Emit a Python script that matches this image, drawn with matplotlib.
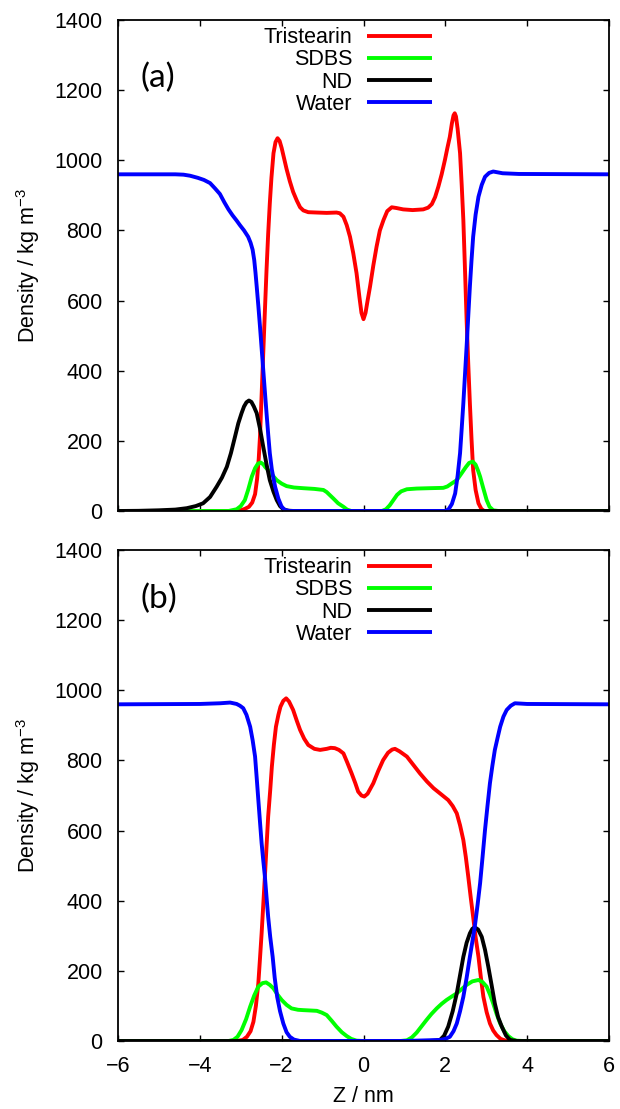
import matplotlib
matplotlib.use("Agg")
import matplotlib.pyplot as plt

plt.rcParams['font.family'] = ['Liberation Sans', 'DejaVu Sans']
plt.rcParams['mathtext.default'] = 'regular'

# ---------------- data, panel (a) ----------------
a_tri_z = [-6, -3.2, -3.0, -2.90, -2.80, -2.72, -2.65, -2.60, -2.56, -2.53, -2.49, -2.45, -2.41,
           -2.37, -2.33, -2.29, -2.25, -2.20, -2.15, -2.10, -2.05, -2.00, -1.96, -1.88, -1.80,
           -1.72, -1.63, -1.55, -1.47, -1.35, -1.14, -0.90, -0.66, -0.58, -0.49, -0.41, -0.33,
           -0.25, -0.17, -0.10, -0.05, 0.0, 0.05, 0.10, 0.16, 0.24, 0.32, 0.40, 0.49, 0.58,
           0.69, 0.80, 0.97, 1.20, 1.46, 1.58, 1.67, 1.75, 1.83, 1.91, 1.99, 2.05, 2.11, 2.16,
           2.20, 2.23, 2.26, 2.30, 2.36, 2.40, 2.44, 2.48, 2.52, 2.56, 2.60, 2.64, 2.68, 2.74,
           2.81, 2.88, 2.95, 6]
a_tri_rho = [0, 0, 2, 6, 12, 24, 48, 92, 150, 212, 330, 450, 570,
             687, 790, 877, 950, 1020, 1052, 1063, 1055, 1035, 1015, 975, 940,
             910, 885, 866, 857, 852, 851, 850, 851, 849, 839, 815, 782,
             735, 678, 610, 565, 547, 565, 600, 640, 700, 754, 800, 830, 855,
             866, 864, 860, 858, 860, 865, 875, 895, 925, 960, 1001, 1035, 1067, 1105,
             1128, 1134, 1125, 1090, 1020, 930, 830, 690, 545, 420, 307, 205, 117, 60,
             22, 6, 0, 0]

a_sdbs_z = [-6, -3.3, -3.10, -3.0, -2.90, -2.82, -2.73, -2.65, -2.58, -2.51, -2.45, -2.40,
            -2.33, -2.25, -2.12, -2.0, -1.88, -1.7, -1.47, -1.2, -0.98, -0.90, -0.82, -0.74,
            -0.62, -0.49, -0.40, -0.30, 0.45, 0.55, 0.64, 0.73, 0.82, 0.92, 1.06, 1.3, 1.6,
            1.95, 2.05, 2.15, 2.28, 2.40, 2.50, 2.58, 2.67, 2.74, 2.80, 2.85, 2.92, 3.01, 3.08,
            3.17, 3.3, 6]
a_sdbs_rho = [0, 0, 5, 14, 31, 60, 98, 122, 135, 138, 133, 125,
              117, 105, 88, 78, 71, 67, 65, 63, 60, 54, 45, 36,
              22, 12, 4, 0, 0, 5, 16, 31, 46, 56, 62, 64, 65,
              66, 70, 78, 88, 108, 125, 137, 141, 132, 115, 98, 68, 31, 12,
              2, 0, 0]

a_nd_z = [-6, -5.5, -5.0, -4.6, -4.32, -4.1, -3.92, -3.75, -3.59, -3.46, -3.34, -3.24, -3.14,
          -3.06, -2.98, -2.92, -2.86, -2.80, -2.74, -2.68, -2.61, -2.53, -2.45, -2.37, -2.29,
          -2.20, -2.12, -2.04, -1.96, -1.85, -1.7, 6]
a_nd_rho = [0, 0.5, 2, 4, 8, 14, 22, 40, 69, 95, 126, 165, 212,
            250, 279, 298, 310, 315, 311, 298, 279, 235, 183, 133, 88,
            55, 31, 14, 5, 1, 0, 0]

a_wat_z = [-6, -4.6, -4.4, -4.24, -4.05, -3.90, -3.75, -3.63, -3.51, -3.40, -3.30, -3.20, -3.10,
           -3.02, -2.92, -2.82, -2.76, -2.71, -2.67, -2.64, -2.61, -2.57, -2.53, -2.49, -2.45,
           -2.41, -2.37, -2.33, -2.29, -2.24, -2.16, -2.08, -2.0, -1.92, -1.8, 2.0, 2.08, 2.16,
           2.24, 2.30, 2.36, 2.40, 2.44, 2.48, 2.52, 2.56, 2.60, 2.64, 2.68, 2.74, 2.81, 2.89,
           2.97, 3.07, 3.17, 3.4, 3.8, 6]
a_wat_rho = [960, 960, 959, 956, 950, 944, 935, 920, 904, 880, 860, 843, 828,
             815, 800, 782, 765, 745, 715, 680, 640, 585, 526, 464, 402,
             340, 279, 220, 165, 118, 69, 35, 12, 3, 0, 0, 5, 20,
             50, 100, 165, 235, 307, 388, 469, 555, 640, 715, 782, 845, 896, 930,
             953, 964, 968, 963, 961, 960]

# ---------------- data, panel (b) ----------------
b_tri_z = [-6, -3.1, -2.95, -2.85, -2.76, -2.69, -2.63, -2.57, -2.53, -2.49, -2.45, -2.41, -2.37,
           -2.33, -2.28, -2.24, -2.19, -2.14, -2.08, -2.03, -1.96, -1.89, -1.82, -1.72, -1.63,
           -1.55, -1.45, -1.35, -1.2, -1.06, -0.90, -0.80, -0.70, -0.60, -0.49, -0.40, -0.29,
           -0.20, -0.13, -0.05, 0.02, 0.10, 0.24, 0.36, 0.48, 0.60, 0.70, 0.77, 0.88, 1.06,
           1.2, 1.38, 1.55, 1.71, 1.88, 2.07, 2.18, 2.28, 2.36, 2.44, 2.50, 2.56, 2.62, 2.68,
           2.74, 2.81, 2.87, 2.93, 3.01, 3.09, 3.17, 3.25, 3.35, 3.5, 6]
b_tri_rho = [0, 0, 3, 12, 28, 55, 100, 165, 235, 307, 388, 469, 555,
             640, 715, 782, 845, 896, 930, 953, 970, 977, 968, 944, 913,
             887, 862, 844, 833, 830, 833, 836, 835, 830, 820, 795, 763,
             735, 711, 700, 697, 705, 735, 770, 801, 822, 831, 833, 826, 811,
             790, 763, 740, 721, 705, 687, 670, 649, 615, 573, 525, 469, 410, 354,
             296, 240, 180, 126, 82, 50, 30, 17, 6, 0, 0]

b_sdbs_z = [-6, -3.3, -3.18, -3.08, -2.98, -2.87, -2.77, -2.67, -2.57, -2.47, -2.38, -2.29, -2.20,
            -2.10, -2.0, -1.88, -1.76, -1.6, -1.47, -1.3, -1.14, -1.02, -0.90, -0.78, -0.66,
            -0.53, -0.41, -0.3, -0.17, 0.0, 0.9, 1.06, 1.18, 1.30, 1.42, 1.54, 1.66, 1.79, 1.91,
            2.03, 2.16, 2.28, 2.40, 2.52, 2.66, 2.81, 2.91, 3.01, 3.09, 3.17, 3.25, 3.34, 3.44,
            3.54, 3.64, 3.74, 3.9, 6]
b_sdbs_rho = [0, 0, 3, 12, 31, 62, 98, 130, 155, 165, 167, 160, 150,
              132, 117, 103, 93, 89, 88, 87, 86, 81, 74, 58, 41,
              25, 14, 6, 1, 0, 0, 2, 10, 24, 42, 60, 77, 93, 106,
              117, 127, 136, 148, 160, 170, 174, 168, 155, 133, 107, 78, 50, 28,
              14, 5, 1, 0, 0]

b_nd_z = [-6, 1.6, 1.75, 1.87, 1.97, 2.07, 2.18, 2.28, 2.36, 2.44, 2.52, 2.60, 2.66, 2.72, 2.80,
          2.89, 2.97, 3.05, 3.13, 3.21, 3.29, 3.38, 3.48, 3.58, 3.75, 6]
b_nd_rho = [0, 0, 1, 3, 15, 41, 85, 136, 188, 240, 280, 307, 320, 324, 318,
            297, 260, 212, 160, 107, 68, 41, 16, 3, 0, 0]

b_wat_z = [-6, -4.0, -3.5, -3.26, -3.10, -3.02, -2.94, -2.86, -2.77, -2.71, -2.65, -2.61, -2.57,
           -2.53, -2.49, -2.45, -2.41, -2.37, -2.33, -2.28, -2.22, -2.17, -2.11, -2.04, -1.96,
           -1.88, -1.80, -1.70, -1.55, 1.0, 1.87, 2.0, 2.11, 2.20, 2.28, 2.36, 2.44, 2.52, 2.60,
           2.66, 2.72, 2.79, 2.85, 2.91, 2.97, 3.03, 3.09, 3.15, 3.21, 3.28, 3.34, 3.42, 3.50,
           3.60, 3.70, 4.0, 6]
b_wat_rho = [960, 961, 963, 965, 961, 956, 949, 930, 896, 858, 811, 750, 687,
             625, 564, 515, 469, 410, 354, 297, 240, 180, 126, 85, 50,
             25, 12, 4, 0, 0, 3, 6, 12, 28, 50, 85, 126, 180, 240,
             283, 326, 390, 450, 525, 602, 670, 735, 785, 830, 866, 896, 925, 944,
             956, 963, 961, 960]

labels = ['Tristearin', 'SDBS', 'ND', 'Water']
colors = ['#ff0000', '#00ff00', '#000000', '#0000ff']
panel_tags = ['(a)', '(b)']
x_ticks = [-6, -4, -2, 0, 2, 4, 6]
y_ticks = [0, 200, 400, 600, 800, 1000, 1200, 1400]

panels = [
    [(a_tri_z, a_tri_rho), (a_sdbs_z, a_sdbs_rho), (a_nd_z, a_nd_rho), (a_wat_z, a_wat_rho)],
    [(b_tri_z, b_tri_rho), (b_sdbs_z, b_sdbs_rho), (b_nd_z, b_nd_rho), (b_wat_z, b_wat_rho)],
]

W, H = 620, 1109
fig = plt.figure(figsize=(W / 100, H / 100), dpi=100)
axes_px = [(118, 20, 609, 511), (118, 550, 609, 1041)]
tag_y = [0.881, 0.900]
fs = 15.5

for i, (x0, y0, x1, y1) in enumerate(axes_px):
    ax = fig.add_axes([x0 / W, 1 - y1 / H, (x1 - x0) / W, (y1 - y0) / H])
    for (z, rho), lab, col in zip(panels[i], labels, colors):
        ax.plot(z, rho, color=col, lw=2.8, label=lab,
                solid_joinstyle='round', solid_capstyle='butt')
    ax.set_xlim(-6, 6)
    ax.set_ylim(0, 1400)
    ax.set_xticks(x_ticks)
    ax.set_yticks(y_ticks)
    ax.tick_params(direction='in', length=4, width=1, top=True, right=True,
                   labelsize=fs, pad=11)
    ax.set_xticklabels([f'{t}'.replace('-', '\u2212') for t in x_ticks])
    if i == 0:
        ax.tick_params(labelbottom=False)
    else:
        ax.set_xlabel('Z / nm', fontsize=fs, labelpad=6)
    for s in ax.spines.values():
        s.set_linewidth(1.3)
    ax.set_ylabel('Density / kg m$^{-3}$', fontsize=fs)
    ax.yaxis.set_label_coords(-0.155, 0.5)
    ax.text(0.046, tag_y[i], panel_tags[i], transform=ax.transAxes, fontsize=24,
            family='Lato', va='center', ha='left')
    ax.legend(loc='upper right', bbox_to_anchor=((432 - x0) / (x1 - x0), 0.985),
              frameon=False, markerfirst=False, fontsize=fs, handlelength=3.0,
              handletextpad=0.7, labelspacing=0.05, borderpad=0, borderaxespad=0)

fig.savefig('out.png', dpi=100)
